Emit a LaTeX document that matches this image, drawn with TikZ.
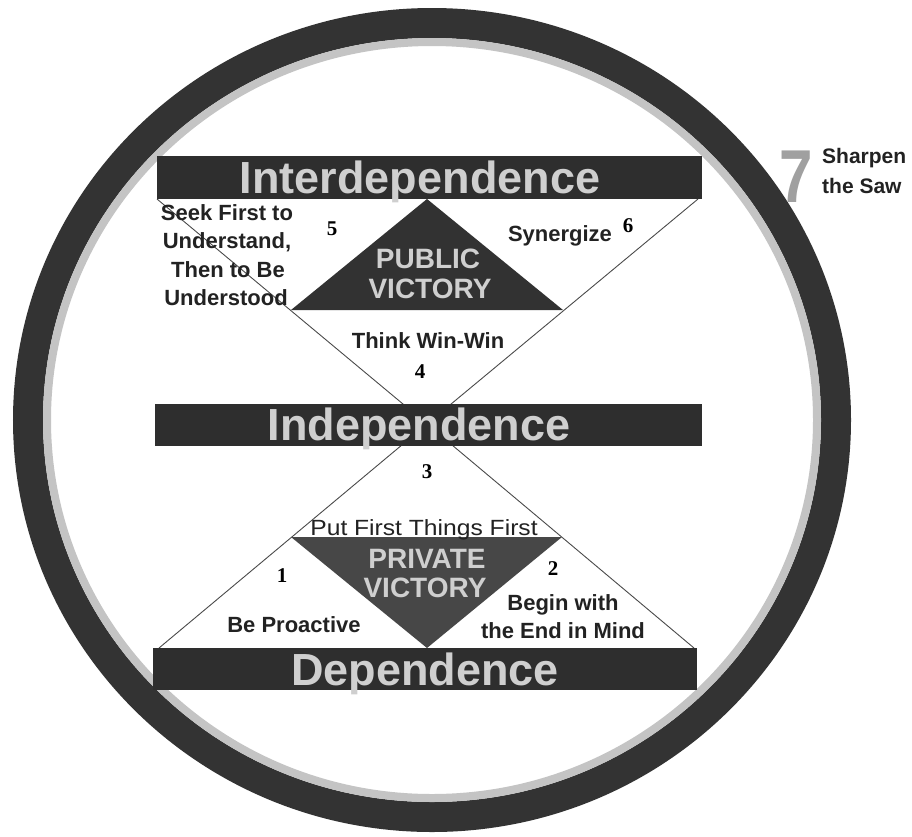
\documentclass[tikz,border=0pt]{standalone}
\usepackage{fontspec}
\usepackage{graphicx}
\setmainfont{Liberation Sans}
\newfontfamily\numfont{Liberation Serif}
\definecolor{ringdark}{HTML}{333333}
\definecolor{ringgrey}{HTML}{C4C4C4}
\definecolor{bardark}{HTML}{2E2E2E}
\definecolor{pubdark}{HTML}{323232}
\definecolor{privdark}{HTML}{474747}
\definecolor{lighttext}{HTML}{CFCFCF}
\definecolor{linegrey}{HTML}{4A4A4A}
\definecolor{sevengrey}{HTML}{A0A0A0}
\definecolor{labeltext}{HTML}{222222}
\begin{document}
\begin{tikzpicture}[x=1pt,y=-1pt,
  bartext/.style={text=lighttext, font=\bfseries\fontsize{45}{50}\selectfont, inner sep=0pt, anchor=base},
  victext/.style={text=lighttext, font=\bfseries\fontsize{28}{30}\selectfont, inner sep=0pt, anchor=base},
  habit/.style={text=labeltext, font=\bfseries\fontsize{22}{26}\selectfont, inner sep=0pt, anchor=base},
  puttext/.style={text=labeltext, font=\fontsize{22}{26}\selectfont, inner sep=0pt, anchor=base},
  sawtext/.style={text=labeltext, font=\bfseries\fontsize{21}{24}\selectfont, inner sep=0pt, anchor=base west},
  num/.style={text=black, font=\numfont\bfseries\fontsize{21}{24}\selectfont, inner sep=0pt, anchor=base},
  triline/.style={draw=linegrey, line width=0.9pt, line join=round},
]
\useasboundingbox (0,0) rectangle (912,836);
\fill[white] (0,0) rectangle (912,836);

% outer ring
\coordinate (C) at (432,420);
\draw[ringdark, line width=30pt] (C) ellipse[x radius=404, y radius=397];
\draw[ringgrey, line width=8pt] (C) ellipse[x radius=385, y radius=378];

% white hourglass triangles
\coordinate (X) at (427,424);
\coordinate (ul) at (157,199);
\coordinate (ur) at (698,199);
\coordinate (ll) at (159,648);
\coordinate (lr) at (694,648);
\draw[triline] (ul) -- (X) -- (ur);
\draw[triline] (ll) -- (X) -- (lr);

% public victory triangle
\coordinate (pa) at (427,199);
\coordinate (pl) at (291,310);
\coordinate (pr) at (563,310);
\fill[pubdark] (pa) -- (pl) -- (pr) -- cycle;

% private victory triangle
\coordinate (va) at (427,648);
\coordinate (vl) at (291,537);
\coordinate (vr) at (562,537);
\fill[privdark] (vl) -- (vr) -- (va) -- cycle;

% bars
\fill[bardark] (157,156) rectangle (702,199);
\fill[bardark] (155,404) rectangle (702,446);
\fill[bardark] (153,648) rectangle (697,690);

\node[bartext] (tInter) at (420,193) {Interdependence};
\node[bartext] (tIndep) at (419,440) {Independence};
\node[bartext] (tDep) at (425,685) {Dependence};

\node[victext] (pub1) at (428,268) {PUBLIC};
\node[victext] (pub2) at (430,298) {VICTORY};
\node[victext] (priv1) at (427,568) {PRIVATE};
\node[victext] (priv2) at (425,597) {VICTORY};

% habits
\node[habit] (h5a) at (227,220) {Seek First to};
\node[habit] (h5b) at (227,248) {Understand,};
\node[habit] (h5c) at (228,277) {Then to Be};
\node[habit] (h5d) at (226,305) {Understood};
\node[habit] (h6) at (560,241) {Synergize};
\node[habit] (h4) at (428,348) {Think Win-Win};
\node[puttext] (h3) at (424,535) {\scalebox{1.12}[1]{Put First Things First}};
\node[habit] (h1) at (294,632) {Be Proactive};
\node[habit] (h2a) at (563,610) {Begin with};
\node[habit] (h2b) at (563,638) {the End in Mind};

% numbers
\node[num] (n5) at (332,235) {5};
\node[num] (n6) at (628,232) {6};
\node[num] (n4) at (420,378) {4};
\node[num] (n3) at (427,478) {3};
\node[num] (n1) at (282,582) {1};
\node[num] (n2) at (553,575) {2};

% habit 7
\node[text=sevengrey, font=\bfseries\fontsize{75}{75}\selectfont, inner sep=0pt, anchor=base] (seven) at (796,202) {\scalebox{0.8}[1]{7}};
\node[sawtext] (saw1) at (822,163) {Sharpen};
\node[sawtext] (saw2) at (822,193) {the Saw};
\end{tikzpicture}
\end{document}
